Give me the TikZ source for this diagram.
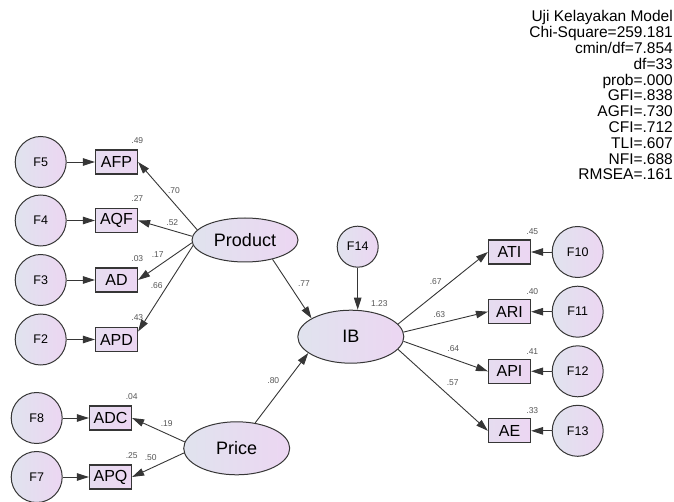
\documentclass[tikz,border=0pt]{standalone}
\usepackage{fontspec}
\setmainfont{Liberation Sans}
\usetikzlibrary{arrows.meta,shapes.geometric}

\definecolor{shadeL}{HTML}{E0E3EE}
\definecolor{shadeR}{HTML}{ECD6F2}
\definecolor{edgeC}{HTML}{363636}
\definecolor{coefC}{HTML}{555555}

\begin{document}
\begin{tikzpicture}[x=1pt, y=-1pt,
  latent/.style={ellipse, draw=edgeC, line width=1pt, left color=shadeL, right color=shadeR,
    minimum width=106pt, minimum height=53pt, inner sep=0pt, font=\fontsize{18}{20}\selectfont},
  errc/.style={circle, draw=edgeC, line width=1pt, left color=shadeL, right color=shadeR,
    minimum size=51pt, inner sep=0pt, font=\fontsize{12.5}{14}\selectfont},
  obsbox/.style={rectangle, draw=edgeC, line width=1.2pt, left color=shadeL!50!shadeR, right color=shadeR,
    minimum width=42pt, minimum height=24pt, inner sep=0pt, font=\fontsize{16}{18}\selectfont},
  coef/.style={font=\fontsize{8.5}{10}\selectfont, text=coefC, inner sep=0pt},
  arr/.style={draw=edgeC, line width=0.9pt, -{Triangle[length=12pt,width=7.5pt]}}]
\useasboundingbox (0,0) rectangle (674,502);

% latent variables
\node[latent, minimum height=44pt] (Product) at (245,240) {Product};
\node[latent] (Price) at (236.7,448.3) {Price};
\node[latent] (IB) at (350.8,336.7) {IB};
\node[errc, minimum size=41pt] (F14) at (357.7,246.7) {F14};
\node[coef] (r123) at (379.3,303.3) {1.23};
\draw[arr] (F14.south) -- (F14.south |- IB.north);

% product indicators
\foreach \f/\b/\y/\r/\a/\s in {F5/AFP/162/.49/168/0pt, F4/AQF/220.5/.27/176/0pt, F3/AD/280/.03/183/0pt, F2/APD/339.5/.43/186/8pt} {
  \node[errc] (\f) at (40.7,\y) {\f};
  \node[obsbox] (\b) at (116.5,\y) {\b};
  \node[coef] (r\b) at (137.3,\y-21.5) {\r};
  \draw[arr] (\f) -- (\b);
  \draw[arr] (Product.\a) -- ([yshift=\s]\b.east);
}
\node[coef] (c70) at (174,191) {.70};
\node[coef] (c52) at (172.3,222.3) {.52};
\node[coef] (c17) at (157.7,254.3) {.17};
\node[coef] (c66) at (156.7,286) {.66};

% price indicators
\foreach \f/\b/\y/\r/\a in {F8/ADC/418/.04/173, F7/APQ/477/.25/185} {
  \node[errc] (\f) at (36.7,\y) {\f};
  \node[obsbox] (\b) at (110.5,\y) {\b};
  \node[coef] (r\b) at (131.7,\y-21) {\r};
  \draw[arr] (\f) -- (\b);
  \draw[arr] (Price.\a) -- (\b.east);
}
\node[coef] (c19) at (166.7,423.3) {.19};
\node[coef] (c50) at (150.7,457.7) {.50};

% structural paths
\draw[arr] (Product.325) -- (IB.155);
\draw[arr] (Price.54) -- (IB.201);
\node[coef] (c77) at (304,283.3) {.77};
\node[coef] (c80) at (273.3,380.7) {.80};

% IB indicators
\foreach \f/\b/\y/\r/\a in {F10/ATI/252/.45/15, F11/ARI/311.7/.40/5, F12/API/371.3/.41/355, F13/AE/430.8/.33/345} {
  \node[errc] (\f) at (577.7,\y) {\f};
  \node[obsbox] (\b) at (509.5,\y) {\b};
  \node[coef] (r\b) at (532.3,\y-20) {\r};
  \draw[arr] (\f) -- (\b);
  \draw[arr] (IB.\a) -- (\b.west);
}
\node[coef] (c67) at (435.7,281.7) {.67};
\node[coef] (c63) at (439.3,315) {.63};
\node[coef] (c64) at (453.3,348.3) {.64};
\node[coef] (c57) at (452.7,382.7) {.57};

% fit summary
\node[anchor=north east, align=right, inner sep=0pt, font=\fontsize{15.5}{15.8}\selectfont] (fit) at (673,10.5)
  {Uji Kelayakan Model\\ Chi-Square=259.181\\ cmin/df=7.854\\ df=33\\ prob=.000\\ GFI=.838\\
   AGFI=.730\\ CFI=.712\\ TLI=.607\\ NFI=.688\\ RMSEA=.161};
\end{tikzpicture}
\end{document}
